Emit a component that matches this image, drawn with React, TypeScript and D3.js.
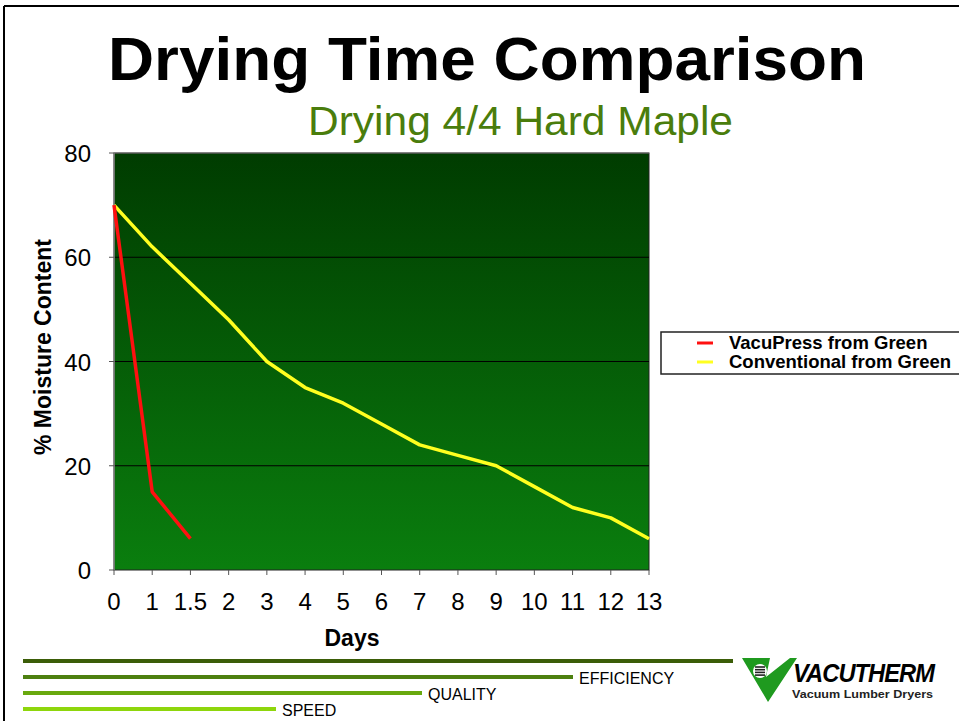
import React from "react";
import * as d3 from "d3";

const categories = ["0", "1", "1.5", "2", "3", "4", "5", "6", "7", "8", "9", "10", "11", "12", "13"];
const vacuPress: (number | null)[] = [70, 15, 6, null, null, null, null, null, null, null, null, null, null, null, null];
const conventional: (number | null)[] = [70, 62, 55, 48, 40, 35, 32, 28, 24, 22, 20, 16, 12, 10, 6];
const yTicks = [0, 20, 40, 60, 80];
const seriesNames = ["VacuPress from Green", "Conventional from Green"];
const seriesColors = ["#ff1010", "#ffff20"];
const bars = [
  { label: "", len: 733, color: "#3b5d08" },
  { label: "EFFICIENCY", len: 573, color: "#4d8010" },
  { label: "QUALITY", len: 422, color: "#68a90e" },
  { label: "SPEED", len: 276, color: "#8ed60c" },
];

export default function App() {
  const W = 959, H = 721;
  const left = 114, right = 649, top = 153, bottom = 570;
  const x = d3.scalePoint<string>().domain(categories).range([left, right]);
  const y = d3.scaleLinear().domain([0, 80]).range([bottom, top]);
  const line = d3
    .line<number | null>()
    .defined((d) => d !== null)
    .x((_, i) => x(categories[i]) as number)
    .y((d) => y(d as number));
  const font = "Arial, 'Liberation Sans', Helvetica, sans-serif";
  return (
    <svg width={W} height={H} style={{ position: "absolute", left: 0, top: 0, background: "#fff" }} fontFamily={font}>
      <defs>
        <linearGradient id="bg" x1="0" y1="0" x2="0" y2="1">
          <stop offset="0" stopColor="#003c00" />
          <stop offset="1" stopColor="#0a7e0e" />
        </linearGradient>
      </defs>
      {/* frame */}
      <line x1={4} y1={6} x2={W} y2={6} stroke="#000" strokeWidth={2} />
      <line x1={4} y1={6} x2={4} y2={H} stroke="#000" strokeWidth={2} />
      <text x={108} y={80} fontSize={62} fontWeight="bold" fill="#000" textLength={758} lengthAdjust="spacingAndGlyphs">
        Drying Time Comparison
      </text>
      <text x={308} y={135} fontSize={41} fill="#4a7d0c" textLength={425} lengthAdjust="spacingAndGlyphs">
        Drying 4/4 Hard Maple
      </text>
      {/* plot */}
      <rect x={left} y={top} width={right - left} height={bottom - top} fill="url(#bg)" stroke="#222" strokeWidth={1} />
      {yTicks.filter((t) => t > 0 && t < 80).map((t) => (
        <line key={t} x1={left} x2={right} y1={y(t)} y2={y(t)} stroke="#000" strokeWidth={1.2} />
      ))}
      <line x1={left} x2={left} y1={top} y2={bottom} stroke="#888" strokeWidth={1.5} />
      <line x1={left} x2={right} y1={top} y2={top} stroke="#777" strokeWidth={1} />
      {yTicks.map((t) => (
        <g key={t}>
          <line x1={left - 5} x2={left} y1={y(t)} y2={y(t)} stroke="#555" />
          <text x={91} y={y(t) + 9} textAnchor="end" fontSize={24} fill="#000">
            {t}
          </text>
        </g>
      ))}
      {categories.map((c) => (
        <g key={c}>
          <line x1={x(c)} x2={x(c)} y1={bottom} y2={bottom + 5} stroke="#555" />
          <text x={x(c)} y={610} textAnchor="middle" fontSize={24} fill="#000">
            {c}
          </text>
        </g>
      ))}
      <path d={line(conventional) || ""} fill="none" stroke={seriesColors[1]} strokeWidth={3.5} strokeLinejoin="round" />
      <path d={line(vacuPress) || ""} fill="none" stroke={seriesColors[0]} strokeWidth={3.5} strokeLinejoin="round" />
      <text x={352} y={646} textAnchor="middle" fontSize={23} fontWeight="bold">
        Days
      </text>
      <text transform={`translate(51,${347}) rotate(-90)`} textAnchor="middle" fontSize={23} fontWeight="bold">
        % Moisture Content
      </text>
      {/* legend */}
      <rect x={661} y={332} width={310} height={42} fill="#fff" stroke="#222" strokeWidth={1.5} />
      {seriesNames.map((n, i) => (
        <g key={n}>
          <line x1={697} x2={713} y1={343 + i * 19} y2={343 + i * 19} stroke={seriesColors[i]} strokeWidth={3} />
          <text x={729} y={349 + i * 19} fontSize={18.5} fontWeight="bold">
            {n}
          </text>
        </g>
      ))}
      {/* bottom bars */}
      {bars.map((b, i) => (
        <g key={i}>
          <line x1={23} x2={b.len} y1={661 + i * 16} y2={661 + i * 16} stroke={b.color} strokeWidth={4} />
          {b.label && (
            <text x={b.len + 6} y={668 + i * 16} fontSize={16} fill="#000">
              {b.label}
            </text>
          )}
        </g>
      ))}
      {/* logo */}
      <g>
        <path d="M742,658 L770,658 L766,677 L790,658 L797,658 L768,702 Z" fill="#1f9a1f" />
        <circle cx={760} cy={671} r={7} fill="#fff" />
        {[0, 1, 2, 3].map((k) => (
          <line key={k} x1={755} x2={765} y1={667 + k * 2.7} y2={667 + k * 2.7} stroke="#222" strokeWidth={1.6} />
        ))}
        <text x={793} y={682} fontSize={25} fontWeight="900" fontStyle="italic" letterSpacing={-1} textLength={141} lengthAdjust="spacingAndGlyphs">
          VACUTHERM
        </text>
        <text x={792} y={698} fontSize={10} fontWeight="bold" textLength={141} lengthAdjust="spacingAndGlyphs" fill="#222">
          Vacuum Lumber Dryers
        </text>
      </g>
    </svg>
  );
}
